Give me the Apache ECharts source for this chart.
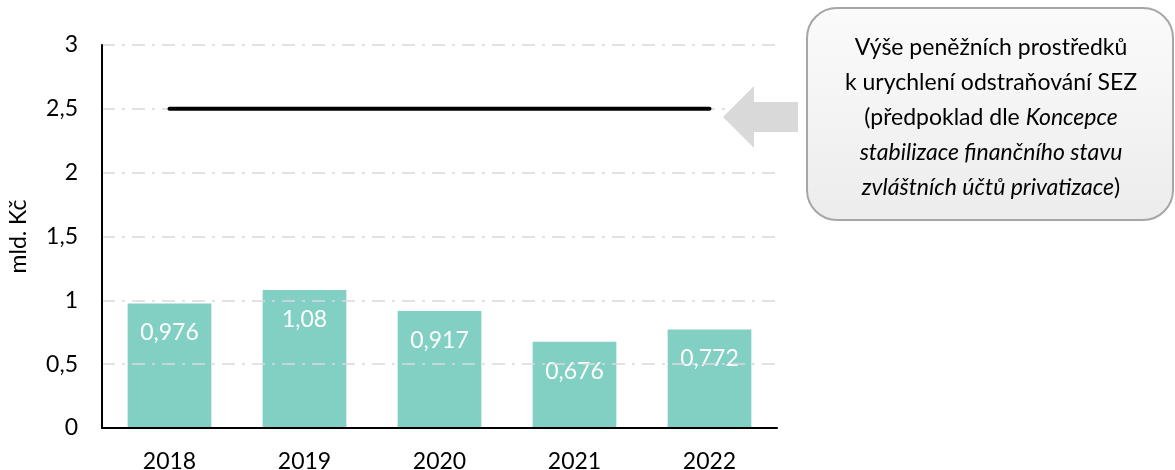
<!DOCTYPE html>
<html><head><meta charset="utf-8">
<script src="https://cdn.jsdelivr.net/npm/echarts@6/dist/echarts.min.js"></script>
<style>html,body{margin:0;padding:0;background:#fff}#c{width:1175px;height:470px}</style>
</head><body><div id="c"></div>
<script>
const categories = ['2018','2019','2020','2021','2022'];
const amounts = [0.976, 1.08, 0.917, 0.676, 0.772];
const planned = [2.5, 2.5, 2.5, 2.5, 2.5];
const yTicks = [0, 0.5, 1, 1.5, 2, 2.5, 3];
const yName = 'mld. Kč';
const noteLines = ['Výše peněžních prostředků', 'k urychlení odstraňování SEZ'];

const FONT = 'Lato, "Open Sans", sans-serif';
const fmt = v => String(v).replace('.', ',');

const chart = echarts.init(document.getElementById('c'));
chart.setOption({
  animation: false,
  grid: {left: 102, right: 398, top: 45, bottom: 42, outerBoundsMode: 'none', containLabel: false},
  xAxis: {
    type: 'category', data: categories, z: 6,
    axisLine: {lineStyle: {color: '#000', width: 2}},
    axisTick: {show: false},
    axisLabel: {color: '#000', fontSize: 23, fontFamily: FONT, margin: 22}
  },
  yAxis: {
    type: 'value', min: yTicks[0], max: yTicks[yTicks.length-1], interval: 0.5, z: 3,
    name: yName, nameLocation: 'middle', nameGap: 72, nameRotate: 90,
    nameTextStyle: {color: '#000', fontSize: 23, fontFamily: FONT},
    axisLine: {show: true, lineStyle: {color: '#000', width: 2}},
    axisTick: {show: false},
    axisLabel: {color: '#000', fontSize: 23, fontFamily: FONT, margin: 24, formatter: v => fmt(v)},
    splitLine: {show: true, lineStyle: {color: '#d9d9d9', width: 1.5, type: [13, 7, 3, 7]}}
  },
  series: [
    {
      type: 'bar', data: amounts, barWidth: '62%', z: 2,
      itemStyle: {color: '#82d0c4'},
      label: {show: true, position: 'insideTop', distance: 18, color: '#fff', fontSize: 23, fontFamily: FONT, formatter: p => fmt(p.value)}
    },
    {
      type: 'line', data: planned, symbol: 'none', z: 5,
      lineStyle: {color: '#000', width: 4, cap: 'round'}
    }
  ],
  graphic: [
    {type: 'polygon', z: 10, shape: {points: [[723,117],[754,86],[754,102],[798,102],[798,132],[754,132],[754,148]]}, style: {fill: '#d9d9d9'}},
    {type: 'rect', z: 10, shape: {x: 807, y: 8, width: 366, height: 212, r: 30},
     style: {fill: {type: 'linear', x: 0, y: 0, x2: 0, y2: 1, colorStops: [{offset: 0, color: '#fbfbfb'}, {offset: 1, color: '#ececec'}]}, stroke: '#a6a6a6', lineWidth: 2}},
    {type: 'text', z: 11, x: 991, y: 118,
     style: {
       text: noteLines[0] + '\n' + noteLines[1] + '\n(předpoklad dle {i|Koncepce}\n{i|stabilizace finančního stavu}\n{i|zvláštních účtů privatizace})',
       rich: {i: {fontStyle: 'italic', fontSize: 23, fontFamily: FONT, fill: '#000', lineHeight: 35}},
       fill: '#000', fontSize: 23, fontFamily: FONT, lineHeight: 35, align: 'center', verticalAlign: 'middle'
     }}
  ]
});
</script></body></html>
